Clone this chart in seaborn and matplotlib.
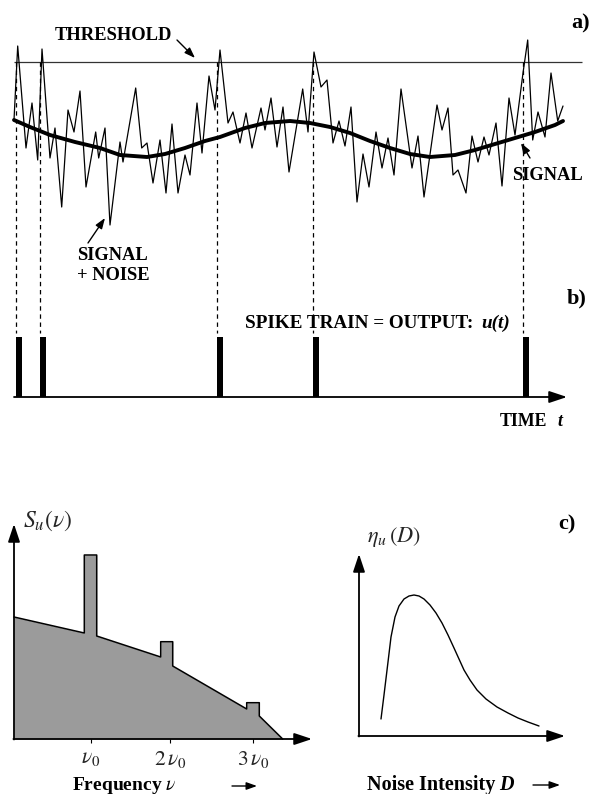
import numpy as np
import pandas as pd
import matplotlib
matplotlib.use("Agg")
import matplotlib.pyplot as plt
import seaborn as sns

# Schematic (units: picture pixels, y grows downward)

# a) signal + noise trace
noise_t = [14, 17.7, 26, 32, 37.7, 42, 50, 55, 61.7, 68, 74, 80, 86, 95.7, 98.7, 105, 110, 120, 123,
           135.7, 141.7, 147, 153, 160, 166, 172, 178, 185, 190, 197, 202, 209, 215, 220, 228, 233,
           240, 246, 252, 261, 265, 271, 277, 283, 289, 302.7, 308, 314, 321, 327, 333, 339, 345,
           351, 357, 363, 369, 376, 382, 388, 394, 401, 412, 418, 424, 437, 442, 448, 453, 458, 466,
           472, 478, 484, 489, 496, 502, 509, 515, 523, 527.7, 532.7, 538, 545, 551, 557.7, 563]
noise_y = [120, 46, 148, 103, 160, 49, 158, 128, 207, 110, 132, 91, 187, 132, 158, 128, 225, 142, 162,
           88, 148, 143, 183, 140, 193, 124, 193, 155, 175, 103, 153, 76, 110, 50, 123, 112,
           143, 113, 148, 108, 130, 98, 147, 107, 172, 89, 132, 52, 87, 80, 143, 121, 146,
           107, 202, 154, 187, 132, 168, 138, 175, 89, 168, 136, 197, 105, 130, 108, 175, 170, 193,
           136, 162, 137, 155, 123, 186, 98, 135, 73, 40, 140, 112, 137, 73, 121, 106]

# a) periodic signal
signal_t = [14, 30, 50, 75, 100, 120, 147, 165, 185, 205, 220, 245, 265, 290, 310, 330, 350, 370,
            390, 410, 430, 455, 475, 495, 515, 535, 555, 563]
signal_y = [120, 127, 135, 142, 148, 155, 157, 154, 148, 141, 137, 128, 123, 121, 123, 127, 133, 141,
            148, 154, 157, 155, 150, 144, 138, 132, 125, 121]

threshold_y = 62

# b) spike train
spike_t = [15.5, 40, 217, 312.5, 522.5]
spike_top = 337
time_axis_y = 397

# c) power spectrum S_u(nu)
freq = [14, 84.3, 84.3, 96.7, 96.7, 160.7, 160.7, 172.7, 172.7, 246.7, 246.7, 259.3, 259.3, 282.7]
power = [617, 633, 555, 555, 636, 657, 641.7, 641.7, 666, 709, 702.7, 702.7, 716, 739]
freq_ticks = [90.7, 170, 253]
freq_labels = [r"$\nu_{\mathit{0}}$", r"$2\,\nu_{\mathit{0}}$", r"$3\,\nu_{\mathit{0}}$"]
spec_axis_y = 739

# c) SNR-like curve eta_u(D)
noise_D = [381, 384, 388, 391, 395, 399, 404, 409, 414, 419, 424, 430, 436, 442, 448, 454, 459,
           464, 470, 477, 486, 497, 508, 518, 528, 539]
eta = [719, 695, 662, 637, 617, 606, 599, 596, 595, 596, 599, 605, 613, 623, 635, 648, 659,
       670, 680, 690, 699, 707, 713, 718, 722, 726]
eta_axis_y = 736

sns.set_theme(style="white")
plt.rcParams['font.family'] = ['Liberation Serif', 'DejaVu Serif']
plt.rcParams['mathtext.fontset'] = 'stix'

fig = plt.figure(figsize=(5.89, 7.94), dpi=100)
ax = fig.add_axes([0, 0, 1, 1])
ax.set_xlim(0, 589)
ax.set_ylim(794, 0)
ax.axis("off")
renderer = fig.canvas.get_renderer()

bold = dict(fontweight="bold", color="black")
axis_arrow = dict(arrowstyle="-|>,head_length=0.9,head_width=0.3", color="black", lw=1.3,
                  mutation_scale=12, shrinkA=0, shrinkB=0)
label_arrow = dict(arrowstyle="-|>,head_length=0.7,head_width=0.25", color="black", lw=1.0,
                   mutation_scale=9, shrinkA=0, shrinkB=0)


def chain_text(x, y, first, second, size, gap=4):
    """bold text followed by a bold italic part"""
    t = ax.text(x, y, first, fontsize=size, ha="left", va="center", **bold)
    bb = t.get_window_extent(renderer=renderer)
    x_end = ax.transData.inverted().transform((bb.x1, bb.y0))[0]
    ax.text(x_end + gap, y, second, fontsize=size, ha="left", va="center", style="italic", **bold)


# ---- panel a ----
ax.hlines(threshold_y, 14, 582, color="#333333", lw=0.9)
sns.lineplot(x=noise_t, y=noise_y, sort=False, estimator=None, color="black", lw=0.9, ax=ax)
sns.lineplot(x=signal_t, y=signal_y, sort=False, estimator=None, color="black", lw=2.8, ax=ax)

ax.text(55, 35, "THRESHOLD", fontsize=13.3, ha="left", va="center", **bold)
ax.annotate("", xy=(195, 58), xytext=(177, 40), arrowprops=label_arrow)
ax.text(571, 23, "a)", fontsize=16, ha="left", va="center", **bold)
ax.text(512, 175, "SIGNAL", fontsize=13.3, ha="left", va="center", **bold)
ax.annotate("", xy=(521, 143), xytext=(530, 158), arrowprops=label_arrow)
ax.text(77, 256, "SIGNAL", fontsize=13.3, ha="left", va="center", **bold)
ax.text(77, 275, "+ NOISE", fontsize=13.3, ha="left", va="center", **bold)
ax.annotate("", xy=(105, 218), xytext=(88, 243), arrowprops=label_arrow)

# dashed guides from threshold crossings down to the spikes
ax.vlines(spike_t, threshold_y, spike_top - 4, color="black", lw=0.9, linestyles=(0, (3.5, 3)))

# ---- panel b ----
ax.bar(spike_t, [spike_top - time_axis_y] * len(spike_t), bottom=time_axis_y, width=6,
       align="edge", color="black", edgecolor="black", linewidth=0)
ax.annotate("", xy=(567, time_axis_y), xytext=(14, time_axis_y), arrowprops=axis_arrow)
ax.text(567, 298, "b)", fontsize=16, ha="left", va="center", **bold)
chain_text(245, 323, "SPIKE TRAIN = OUTPUT:", "u(t)", 13.8, gap=8)
chain_text(500, 422, "TIME", "t", 12.8, gap=10)

# ---- panel c, left: spectrum ----
ax.fill_between(freq, power, spec_axis_y, color="#9b9b9b", lw=0)
sns.lineplot(x=freq, y=power, sort=False, estimator=None, color="black", lw=1.1, ax=ax)
ax.annotate("", xy=(14, 524), xytext=(14, spec_axis_y + 0.5), arrowprops=axis_arrow)
ax.annotate("", xy=(312, spec_axis_y), xytext=(13.4, spec_axis_y), arrowprops=axis_arrow)
ax.vlines(freq_ticks, spec_axis_y, spec_axis_y + 4, color="black", lw=0.8)
for xt, lab in zip(freq_ticks, freq_labels):
    ax.text(xt, 759, lab, fontsize=15.5, ha="center", va="center")
ax.text(23, 521, r"$S_u(\nu)$", fontsize=17, ha="left", va="center")
ax.text(72, 785, r"Frequency $\nu$", fontsize=14, ha="left", va="center", **bold)
ax.annotate("", xy=(257, 786), xytext=(232, 786), arrowprops=label_arrow)

# ---- panel c, right: eta_u(D) ----
sns.lineplot(x=noise_D, y=eta, sort=False, estimator=None, color="black", lw=1.0, ax=ax)
ax.annotate("", xy=(359, 554), xytext=(359, eta_axis_y + 0.5), arrowprops=axis_arrow)
ax.annotate("", xy=(565, eta_axis_y), xytext=(358.4, eta_axis_y), arrowprops=axis_arrow)
ax.text(367, 537, r"$\eta_u\,(D)$", fontsize=16, ha="left", va="center")
ax.text(558, 524, "c)", fontsize=16, ha="left", va="center", **bold)
chain_text(367, 785, "Noise Intensity", "D", 14.5, gap=4)
ax.annotate("", xy=(560, 785), xytext=(533, 785), arrowprops=label_arrow)

fig.savefig("out.png", dpi=100, facecolor="white")
